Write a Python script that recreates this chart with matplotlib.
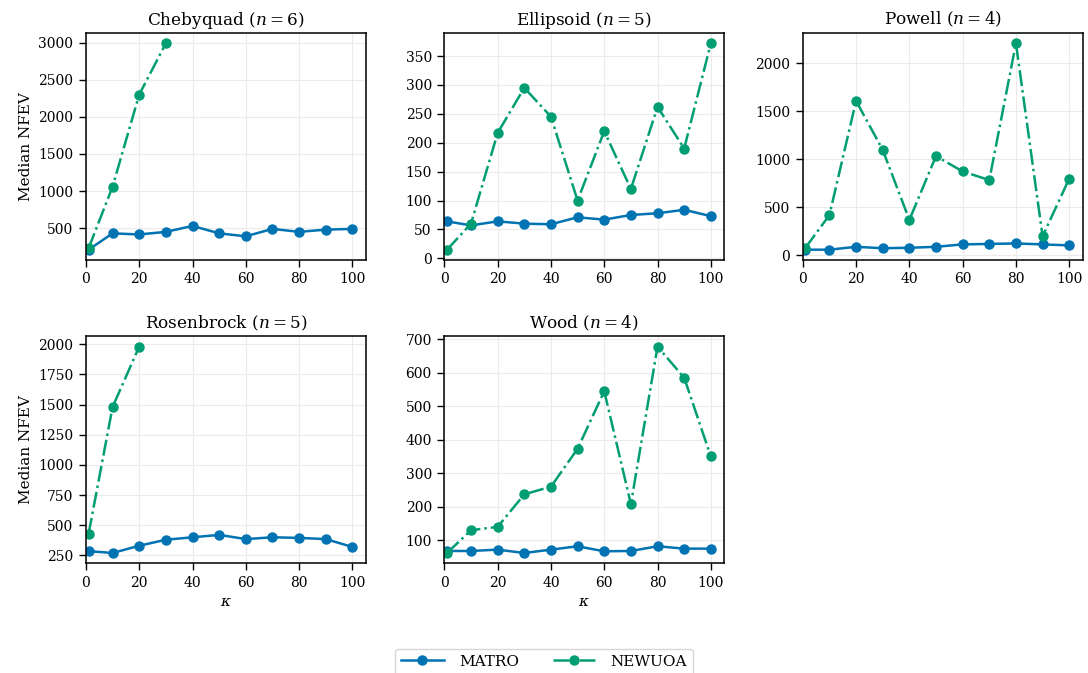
import matplotlib
matplotlib.use("Agg")
import matplotlib.pyplot as plt

kappa = [1, 10, 20, 30, 40, 50, 60, 70, 80, 90, 100]

titles = [r"Chebyquad ($n = 6$)", r"Ellipsoid ($n = 5$)", r"Powell ($n = 4$)",
          r"Rosenbrock ($n = 5$)", r"Wood ($n = 4$)"]

matro_chebyquad = [210, 430, 415, 450, 530, 430, 390, 490, 450, 480, 490]
newuoa_chebyquad = [230, 1060, 2300, 2990]

matro_ellipsoid = [64, 57, 64, 60, 59, 71, 67, 75, 78, 84, 73]
newuoa_ellipsoid = [15, 60, 217, 295, 245, 100, 220, 120, 262, 190, 372]

matro_powell = [60, 60, 90, 75, 80, 90, 115, 120, 125, 115, 105]
newuoa_powell = [80, 420, 1610, 1100, 370, 1035, 875, 785, 2210, 200, 800]

matro_rosenbrock = [285, 270, 330, 380, 400, 420, 385, 400, 395, 385, 320]
newuoa_rosenbrock = [430, 1480, 1980]

matro_wood = [68, 68, 72, 62, 72, 82, 67, 68, 82, 75, 75]
newuoa_wood = [62, 130, 140, 237, 260, 373, 545, 208, 678, 585, 350]

matro_all = [matro_chebyquad, matro_ellipsoid, matro_powell, matro_rosenbrock, matro_wood]
newuoa_all = [newuoa_chebyquad, newuoa_ellipsoid, newuoa_powell, newuoa_rosenbrock, newuoa_wood]

plt.rcParams.update({
    "font.family": "DejaVu Serif",
    "mathtext.fontset": "dejavuserif",
    "font.size": 10,
    "axes.titlesize": 12.2,
    "axes.labelsize": 11,
    "xtick.labelsize": 10,
    "ytick.labelsize": 10,
    "axes.linewidth": 1.1,
    "xtick.major.width": 1.0,
    "ytick.major.width": 1.0,
    "xtick.major.size": 5,
    "ytick.major.size": 5,
    "xtick.major.pad": 4,
    "ytick.major.pad": 4,
})

BLUE = "#0173B2"
GREEN = "#029E73"

fig, axes = plt.subplots(2, 3, figsize=(10.88, 6.73), dpi=100)
fig.subplots_adjust(left=0.079, right=0.995, top=0.951, bottom=0.163,
                    wspace=0.281, hspace=0.336)
axes = axes.ravel()

for i in range(5):
    ax = axes[i]
    ax.grid(True, color="#ebebeb", linewidth=0.8)
    ax.set_axisbelow(True)
    m = matro_all[i]
    nw = newuoa_all[i]
    l1, = ax.plot(kappa[:len(m)], m, color=BLUE, marker="o", markersize=6.5,
                  linewidth=1.8, linestyle="-", label="MATRO")
    l2, = ax.plot(kappa[:len(nw)], nw, color=GREEN, marker="o", markersize=6.5,
                  linewidth=1.8, linestyle="-.", label="NEWUOA")
    ax.set_title(titles[i])
    ax.set_xlim(left=0, right=105)
    ax.set_xticks([0, 20, 40, 60, 80, 100])
    if i in (0, 3):
        ax.set_ylabel("Median NFEV")
    if i in (3, 4):
        ax.set_xlabel(r"$\kappa$")

axes[5].set_visible(False)

fig.legend([l1, l2], ["MATRO", "NEWUOA"], loc="lower center", ncol=2,
           bbox_to_anchor=(0.5, -0.014), frameon=True, fontsize=11,
           edgecolor="#cccccc", fancybox=True, handlelength=2.8,
           handletextpad=1.0, columnspacing=2.2)

fig.savefig("out.png", dpi=100)
